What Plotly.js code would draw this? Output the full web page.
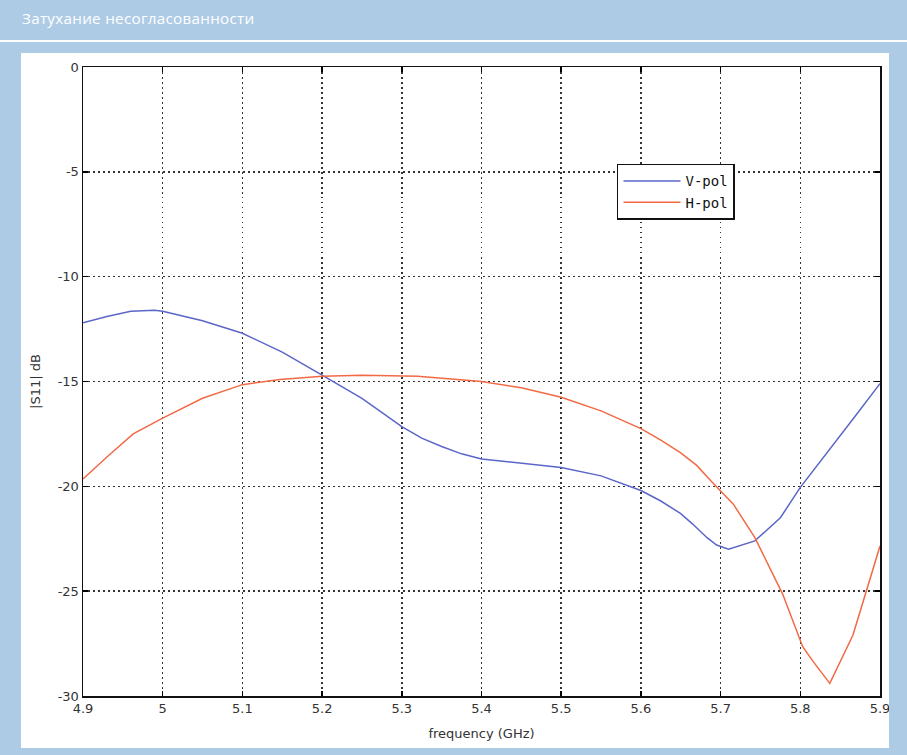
<!DOCTYPE html>
<html>
<head>
<meta charset="utf-8">
<script src="https://cdn.plot.ly/plotly-3.0.1.min.js"></script>
<style>
  html, body { margin: 0; padding: 0; }
  body { width: 907px; height: 755px; background: #aecbe6; position: relative; overflow: hidden; }
  #hdr { position: absolute; left: 22px; top: 7px; color: #ffffff; font-family: "Open Sans", "Noto Sans", sans-serif; font-size: 15.2px; line-height: 22px; letter-spacing: 0.3px; }
  #sep { position: absolute; left: 0; top: 40px; width: 907px; height: 1.5px; background: #ffffff; }
  #panel { position: absolute; left: 21px; top: 53px; width: 868px; height: 695px; background: #ffffff; overflow: hidden; }
  #chart { width: 868px; height: 695px; }
</style>
</head>
<body>
<div id="hdr">Затухание несогласованности</div>
<div id="sep"></div>
<div id="panel"><div id="chart"></div></div>
<script>
const vFreq = [4.90, 4.93, 4.96, 4.99, 5.00, 5.05, 5.10, 5.15, 5.20, 5.25, 5.30, 5.325, 5.35, 5.375, 5.40, 5.45, 5.50, 5.55, 5.575, 5.60, 5.625, 5.65, 5.665, 5.683, 5.695, 5.71, 5.743, 5.775, 5.80, 5.84, 5.87, 5.90];
const vPol  = [-12.2, -11.9, -11.65, -11.6, -11.65, -12.1, -12.7, -13.6, -14.7, -15.8, -17.15, -17.7, -18.1, -18.45, -18.7, -18.9, -19.1, -19.5, -19.85, -20.2, -20.7, -21.3, -21.8, -22.45, -22.8, -23.0, -22.6, -21.5, -20.05, -18.1, -16.6, -15.1];

const hFreq = [4.90, 4.93, 4.963, 5.00, 5.05, 5.10, 5.147, 5.20, 5.25, 5.32, 5.40, 5.45, 5.50, 5.55, 5.60, 5.625, 5.65, 5.67, 5.688, 5.716, 5.743, 5.778, 5.803, 5.816, 5.837, 5.866, 5.90];
const hPol  = [-19.65, -18.6, -17.5, -16.75, -15.8, -15.15, -14.9, -14.75, -14.7, -14.75, -15.0, -15.3, -15.75, -16.4, -17.25, -17.8, -18.4, -19.0, -19.75, -20.85, -22.45, -25.15, -27.65, -28.35, -29.4, -27.1, -22.85];

const xTicks = [4.9, 5.0, 5.1, 5.2, 5.3, 5.4, 5.5, 5.6, 5.7, 5.8, 5.9];
const xTickText = ['4.9', '5', '5.1', '5.2', '5.3', '5.4', '5.5', '5.6', '5.7', '5.8', '5.9'];
const yTicks = [0, -5, -10, -15, -20, -25, -30];
const yTickText = ['0', '-5', '-10', '-15', '-20', '-25', '-30'];

const tickFont = { family: 'DejaVu Sans', size: 13, color: '#333333' };

const traces = [
  { x: vFreq, y: vPol, name: 'V-pol', mode: 'lines', type: 'scatter',
    line: { color: '#5b66c9', width: 1.5 } },
  { x: hFreq, y: hPol, name: 'H-pol', mode: 'lines', type: 'scatter',
    line: { color: '#f26a45', width: 1.5 } }
];

const layout = {
  width: 868, height: 695,
  margin: { l: 62, r: 9, t: 14, b: 52 },
  paper_bgcolor: '#ffffff', plot_bgcolor: '#ffffff',
  showlegend: true,
  legend: {
    x: 0.67, y: 0.846, xanchor: 'left', yanchor: 'top',
    bgcolor: '#ffffff', bordercolor: '#111111', borderwidth: 1.5,
    font: { family: 'DejaVu Sans Mono', size: 14, color: '#111111' },
    itemwidth: 57
  },
  xaxis: {
    range: [4.9, 5.9], tickmode: 'array', tickvals: xTicks, ticktext: xTickText,
    tickfont: tickFont, ticks: 'inside', ticklen: 5, tickcolor: '#000000', tickwidth: 1.5,
    ticklabeloverflow: 'allow',
    showline: true, linecolor: '#111111', linewidth: 1.5, mirror: 'ticks',
    showgrid: true, gridcolor: '#333333', griddash: '1.5px,3.5px', gridwidth: 1.5,
    zeroline: false,
    title: { text: 'frequency (GHz)', font: { family: 'DejaVu Sans', size: 13, color: '#333333' }, standoff: 14 }
  },
  yaxis: {
    range: [-30, 0], tickmode: 'array', tickvals: yTicks, ticktext: yTickText,
    tickfont: tickFont, ticks: 'inside', ticklen: 5, tickcolor: '#000000', tickwidth: 1.5,
    showline: true, linecolor: '#111111', linewidth: 1.5, mirror: 'ticks',
    showgrid: true, gridcolor: '#333333', griddash: '1.5px,3.5px', gridwidth: 1.5,
    zeroline: false,
    title: { text: '|S11| dB', font: { family: 'DejaVu Sans', size: 13, color: '#333333' }, standoff: 14 }
  }
};

Plotly.newPlot('chart', traces, layout, { displayModeBar: false, staticPlot: true });
</script>
</body>
</html>
